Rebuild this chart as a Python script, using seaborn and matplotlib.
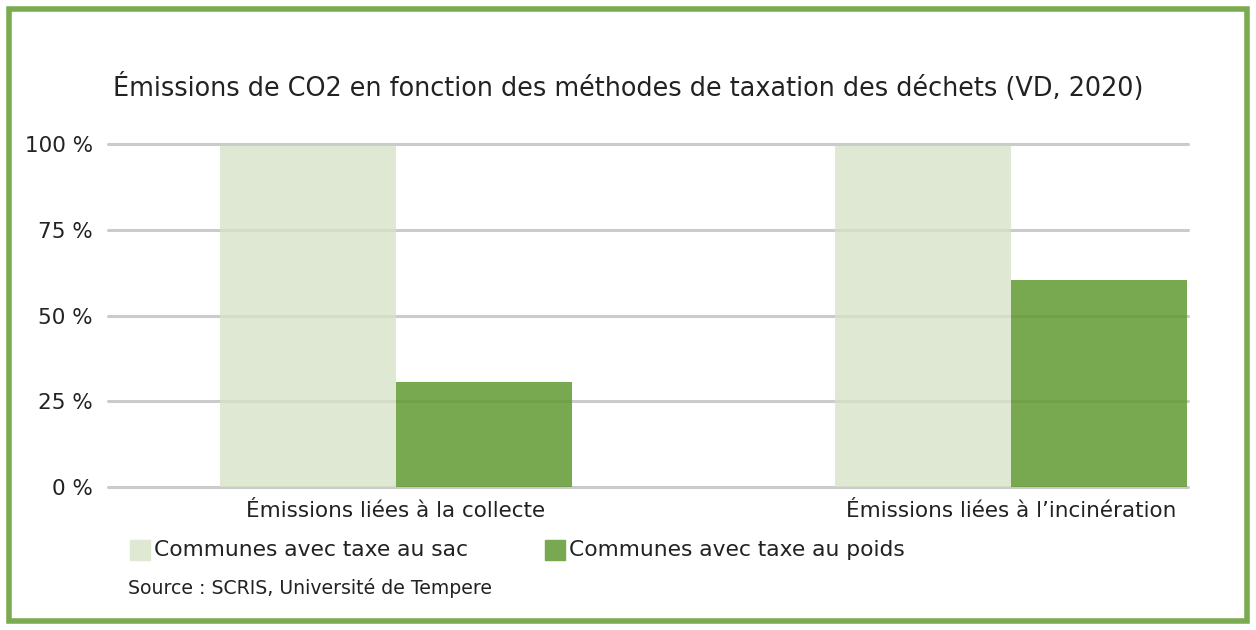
import pandas as pd
import numpy as np
import seaborn as sns
from matplotlib import pyplot as plt
from matplotlib.patches import Rectangle

categories = ['Émissions liées à la collecte', 'Émissions liées à l\u2019incinération']
series = ['Communes avec taxe au sac', 'Communes avec taxe au poids']
sac = [99.5, 99.5]
poids = [30.5, 60.3]
yticks = [0, 25, 50, 75, 100]
ytick_labels = ['0 %', '25 %', '50 %', '75 %', '100 %']

df = pd.DataFrame({
    'cat': categories * 2,
    'serie': [series[0]] * 2 + [series[1]] * 2,
    'val': sac + poids,
})

sns.set_style('white')
plt.rcParams['font.family'] = ['DejaVu Sans']

light = '#dfe8d2'
dark = '#78a84f'
txt = '#222222'

fig = plt.figure(figsize=(12.56, 6.3), dpi=100)
ax = fig.add_axes([108 / 1256, 143 / 630, 1080 / 1256, 343 / 630])

sns.barplot(data=df, x='cat', y='val', hue='serie', palette=[light, dark],
            width=0.572, saturation=1, ax=ax, legend=False, zorder=2,
            linewidth=0)

ax.set_xlim(-0.468, 1.288)
ax.set_ylim(0, 100)
ax.set_yticks(yticks)
ax.set_yticklabels(ytick_labels, fontsize=15.5, color=txt)
ax.tick_params(axis='x', labelsize=15.5, colors=txt, length=0, pad=10)
ax.tick_params(axis='y', length=0, pad=11)
ax.set_xlabel('')
ax.set_ylabel('')
for y in yticks:
    # gridlines behind the bars, with a faint trace on top like the original
    ax.axhline(y, color='#d6d6d6', lw=2.2, zorder=1, clip_on=False)
    ax.axhline(y, color='#000000', lw=2.2, alpha=0.05, zorder=3, clip_on=False)
for s in ax.spines.values():
    s.set_visible(False)

fig.text(0.5, 1 - 88 / 630, 'Émissions de CO2 en fonction des méthodes de taxation des déchets (VD, 2020)',
         ha='center', va='center', fontsize=18.4, color=txt)

# legend
for x0, col, lab in [(130, light, series[0]), (545, dark, series[1])]:
    fig.patches.append(Rectangle((x0 / 1256, 1 - 560 / 630), 20 / 1256, 20 / 630,
                                 transform=fig.transFigure, color=col))
    fig.text((x0 + 24) / 1256, 1 - 550 / 630, lab, ha='left', va='center',
             fontsize=15.7, color=txt)

fig.text(128 / 1256, 1 - 588 / 630, 'Source : SCRIS, Université de Tempere',
         ha='left', va='center', fontsize=13.6, color=txt)

# frame
fig.patches.append(Rectangle((9 / 1256, 9 / 630), 1238 / 1256, 612 / 630,
                             transform=fig.transFigure, fill=False,
                             edgecolor='#7aab50', lw=4))

fig.savefig('out.png', dpi=100)
